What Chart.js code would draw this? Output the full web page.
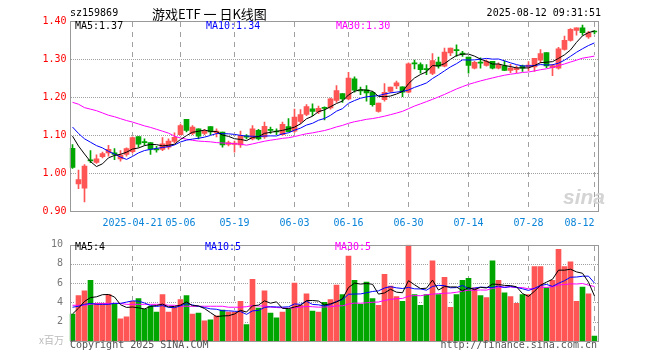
<!DOCTYPE html>
<html>
<head>
<meta charset="utf-8">
<script src="https://cdn.jsdelivr.net/npm/chart.js@4.4.1/dist/chart.umd.min.js"></script>
<style>
  html, body { margin: 0; padding: 0; background: #fff; }
  #wrap { position: relative; width: 660px; height: 360px; overflow: hidden; font-family: 'DejaVu Sans Mono', monospace; font-size: 10px; }
  #priceChart { position: absolute; left: 0; top: 0; }
  #volChart { position: absolute; left: 0; top: 232px; }
  .txt { position: absolute; white-space: pre; line-height: 12px; }
</style>
</head>
<body>
<div id="wrap">
  <canvas id="priceChart" width="660" height="232" style="width:660px;height:232px"></canvas>
  <canvas id="volChart" width="660" height="128" style="width:660px;height:128px"></canvas>

  <div class="txt" style="left:70px;top:7px;color:#000">sz159869</div>
  <div class="txt" style="left:152px;top:5px;line-height:17px;font-size:13px;font-family:'Noto Sans CJK SC',sans-serif;color:#000">游戏ETF 一 日K线图</div>
  <div class="txt" style="right:59px;top:7px;color:#000">2025-08-12 09:31:51</div>

  <div class="txt" style="left:75px;top:20px;color:#000">MA5:1.37</div>
  <div class="txt" style="left:206px;top:20px;color:#0000ff">MA10:1.34</div>
  <div class="txt" style="left:336px;top:20px;color:#ff00ff">MA30:1.30</div>

  <div class="txt" style="left:563px;top:185px;line-height:24px;font-size:21px;font-weight:bold;font-style:italic;font-family:'Liberation Sans',sans-serif;color:#d4d4d4">sina</div>

  <div class="txt" style="left:75px;top:241px;color:#000">MA5:4</div>
  <div class="txt" style="left:205px;top:241px;color:#0000ff">MA10:5</div>
  <div class="txt" style="left:335px;top:241px;color:#ff00ff">MA30:5</div>

  <div class="txt" style="right:596px;top:334px;color:#bbb;font-family:'Noto Sans CJK SC',sans-serif">x百万</div>
  <div class="txt" style="left:70px;top:339px;color:#555">Copyright 2025 SINA.COM</div>
  <div class="txt" style="right:63px;top:339px;color:#555">http://finance.sina.com.cn</div>
</div>

<script>
// trading days shown on the chart
const dates = [
  '2025-04-07','2025-04-08','2025-04-09','2025-04-10','2025-04-11','2025-04-14','2025-04-15','2025-04-16','2025-04-17','2025-04-18',
  '2025-04-21','2025-04-22','2025-04-23','2025-04-24','2025-04-25','2025-04-28','2025-04-29','2025-04-30',
  '2025-05-06','2025-05-07','2025-05-08','2025-05-09','2025-05-12','2025-05-13','2025-05-14','2025-05-15','2025-05-16',
  '2025-05-19','2025-05-20','2025-05-21','2025-05-22','2025-05-23','2025-05-26','2025-05-27','2025-05-28','2025-05-29','2025-05-30',
  '2025-06-03','2025-06-04','2025-06-05','2025-06-06','2025-06-09','2025-06-10','2025-06-11','2025-06-12','2025-06-13',
  '2025-06-16','2025-06-17','2025-06-18','2025-06-19','2025-06-20','2025-06-23','2025-06-24','2025-06-25','2025-06-26','2025-06-27',
  '2025-06-30','2025-07-01','2025-07-02','2025-07-03','2025-07-04','2025-07-07','2025-07-08','2025-07-09','2025-07-10','2025-07-11',
  '2025-07-14','2025-07-15','2025-07-16','2025-07-17','2025-07-18','2025-07-21','2025-07-22','2025-07-23','2025-07-24','2025-07-25',
  '2025-07-28','2025-07-29','2025-07-30','2025-07-31','2025-08-01','2025-08-04','2025-08-05','2025-08-06','2025-08-07','2025-08-08',
  '2025-08-11','2025-08-12',
];

const tickDates = ['2025-04-21','2025-05-06','2025-05-19','2025-06-03','2025-06-16','2025-06-30','2025-07-14','2025-07-28','2025-08-12'];
const tickTexts = ['2025-04-21','05-06','05-19','06-03','06-16','06-30','07-14','07-28','08-12'];

const opens = [
  1.065,0.971,0.960,1.034,1.028,1.043,1.053,1.053,1.037,1.049,
  1.056,1.096,1.081,1.080,1.062,1.062,1.068,1.083,1.101,1.141,
  1.104,1.116,1.104,1.122,1.106,1.108,1.075,1.075,1.074,1.098,
  1.090,1.112,1.095,1.114,1.109,1.101,1.122,1.110,1.136,1.154,
  1.169,1.161,1.171,1.171,1.191,1.209,1.195,1.248,1.218,1.219,
  1.212,1.162,1.193,1.215,1.229,1.227,1.213,1.288,1.285,1.273,
  1.262,1.292,1.281,1.316,1.323,1.314,1.305,1.276,1.290,1.283,
  1.294,1.276,1.282,1.270,1.272,1.282,1.279,1.279,1.297,1.317,
  1.277,1.276,1.325,1.349,1.375,1.382,1.358,1.372,
];
const highs = [
  1.075,1.008,1.022,1.059,1.048,1.055,1.073,1.064,1.059,1.066,
  1.095,1.096,1.090,1.080,1.070,1.093,1.090,1.106,1.129,1.141,
  1.125,1.116,1.115,1.122,1.116,1.108,1.084,1.084,1.110,1.101,
  1.125,1.115,1.134,1.121,1.116,1.134,1.143,1.168,1.167,1.180,
  1.182,1.176,1.174,1.197,1.230,1.209,1.265,1.253,1.226,1.230,
  1.215,1.184,1.235,1.226,1.242,1.227,1.290,1.297,1.290,1.285,
  1.314,1.305,1.329,1.329,1.337,1.320,1.305,1.294,1.303,1.298,
  1.294,1.290,1.295,1.286,1.282,1.284,1.293,1.302,1.325,1.317,
  1.286,1.331,1.360,1.380,1.382,1.389,1.373,1.375,
];
const lows = [
  1.012,0.959,0.924,1.027,1.025,1.040,1.044,1.035,1.031,1.044,
  1.052,1.068,1.073,1.049,1.055,1.059,1.063,1.079,1.100,1.108,
  1.101,1.090,1.101,1.101,1.095,1.068,1.071,1.055,1.067,1.090,
  1.087,1.087,1.091,1.104,1.101,1.099,1.108,1.107,1.130,1.151,
  1.151,1.156,1.140,1.168,1.186,1.186,1.192,1.213,1.206,1.189,
  1.176,1.160,1.189,1.212,1.222,1.201,1.211,1.274,1.263,1.259,
  1.259,1.276,1.279,1.309,1.307,1.307,1.263,1.274,1.276,1.281,
  1.274,1.274,1.269,1.264,1.264,1.267,1.269,1.267,1.290,1.277,
  1.256,1.273,1.323,1.347,1.363,1.363,1.354,1.366,
];
const closes = [
  1.015,0.983,1.018,1.032,1.037,1.051,1.062,1.049,1.047,1.064,
  1.093,1.076,1.080,1.063,1.061,1.077,1.084,1.094,1.125,1.112,
  1.121,1.097,1.110,1.108,1.110,1.074,1.080,1.079,1.099,1.094,
  1.116,1.090,1.123,1.112,1.108,1.128,1.109,1.147,1.154,1.175,
  1.162,1.170,1.170,1.195,1.217,1.195,1.250,1.218,1.216,1.211,
  1.180,1.184,1.212,1.226,1.237,1.213,1.287,1.287,1.272,1.272,
  1.296,1.281,1.318,1.329,1.322,1.313,1.283,1.291,1.289,1.294,
  1.276,1.285,1.270,1.276,1.276,1.276,1.284,1.302,1.314,1.282,
  1.283,1.327,1.349,1.378,1.382,1.369,1.369,1.371,
];
// volume, x 1,000,000
const volumes = [
  2.8,4.7,5.2,6.3,3.9,3.9,4.8,3.9,2.3,2.5,
  4.1,4.4,3.3,3.6,3.0,4.8,3.0,3.5,4.3,4.7,
  2.8,2.9,2.1,2.2,2.6,3.2,3.0,3.0,4.1,1.7,
  6.4,3.4,5.2,2.9,2.4,3.0,3.3,6.0,3.7,4.9,
  3.1,3.0,4.0,4.3,5.8,4.8,8.8,6.3,3.8,6.1,
  4.4,3.7,6.9,5.7,4.6,4.1,9.95,4.8,3.7,4.8,
  8.3,4.8,6.6,3.5,4.8,6.3,6.5,5.5,4.7,4.5,
  8.3,6.3,5.0,4.6,3.9,4.8,4.8,7.7,7.7,5.5,
  6.3,9.5,7.7,8.2,4.1,5.6,4.9,0.5,
];

// MA values at the left edge, where the window reaches before the first candle
const ma5Head = [1.097, 1.071, 1.050, 1.030];
const ma10Head = [1.121, 1.104, 1.090, 1.081, 1.072, 1.066, 1.057, 1.050, 1.042];
const ma30Head = [
  1.186,1.181,1.172,1.168,1.164,1.158,1.152,1.148,1.143,1.138,
  1.134,1.129,1.124,1.120,1.115,1.110,1.105,1.097,1.092,1.089,
  1.086,1.084,1.083,1.082,1.080,1.079,1.078,1.077,1.076,
];
const vma5Head = [2.8, 3.4, 4.1, 4.5];
const vma10Head = [3.5, 3.6, 3.8, 3.9, 3.8, 3.8, 3.8, 3.9, 3.9];
const vma30Head = [
  3.7,3.7,3.7,3.8,3.9,3.9,3.9,3.9,3.9,3.8,
  3.8,3.8,3.8,3.8,3.8,3.8,3.7,3.7,3.6,3.6,
  3.6,3.6,3.6,3.6,3.6,3.6,3.5,3.5,3.5,
];

const RED = '#ff5555';
const GREEN = '#00a600';
const GRID = '#a0a0a0';

const movingAvg = (values, n, head) =>
  values.map((v, i) => {
    if (i < n - 1) return head[i];
    let sum = 0;
    for (let k = i - n + 1; k <= i; k++) sum += values[k];
    return sum / n;
  });

const candleColors = opens.map((o, i) => (closes[i] > o ? RED : GREEN));

Chart.defaults.font.family = "'DejaVu Sans Mono', monospace";
Chart.defaults.font.size = 10;

// dotted rows at the y ticks and dashed columns at the dated ticks,
// put down pixel by pixel only where no candle or line has been drawn yet
const gridPlugin = {
  id: 'sinaGrid',
  afterDatasetsDraw(chart) {
    const { ctx, chartArea, scales, canvas } = chart;
    const w = canvas.width;
    const pix = ctx.getImageData(0, 0, w, canvas.height).data;
    const free = (x, y) => {
      const k = (y * w + x) * 4;
      return pix[k + 3] < 40 || (pix[k] > 235 && pix[k + 1] > 235 && pix[k + 2] > 235);
    };
    const left = Math.round(chartArea.left) + 1;
    const right = Math.round(chartArea.right);
    const top = Math.round(chartArea.top) + 1;
    const bottom = Math.round(chartArea.bottom);
    ctx.save();
    ctx.fillStyle = GRID;
    scales.y.ticks.forEach((t) => {
      const py = Math.round(scales.y.getPixelForValue(t.value));
      if (py <= top || py >= bottom) return;
      for (let x = left; x < right; x += 2) {
        if (free(x, py)) ctx.fillRect(x, py, 1, 1);
      }
    });
    tickDates.forEach((d) => {
      const px = Math.floor(scales.x.getPixelForValue(dates.indexOf(d)));
      for (let y = top; y < bottom; y++) {
        if ((y - top) % 10 < 5 && free(px, y)) ctx.fillRect(px, y, 1, 1);
      }
    });
    ctx.restore();
  },
};

// grey box round the plot area
const framePlugin = {
  id: 'frame',
  afterDraw(chart) {
    const { ctx, chartArea } = chart;
    const l = Math.round(chartArea.left) + 0.5;
    const r = Math.round(chartArea.right) + 0.5;
    const t = Math.round(chartArea.top) + 0.5;
    const b = Math.round(chartArea.bottom) + 0.5;
    ctx.save();
    ctx.strokeStyle = '#999';
    ctx.lineWidth = 1;
    ctx.strokeRect(l, t, r - l, b - t);
    ctx.restore();
  },
};

const xScale = (showLabels, height) => ({
  type: 'category',
  offset: true,
  grid: { display: false, drawTicks: false },
  border: { display: false },
  ticks: {
    display: showLabels,
    autoSkip: false,
    maxRotation: 0,
    minRotation: 0,
    align: 'inner',
    padding: 6,
    color: '#0a84d8',
    callback: (v, i) => {
      const k = tickDates.indexOf(dates[i]);
      return k < 0 ? '' : tickTexts[k];
    },
  },
  afterFit: (scale) => {
    scale.height = height;
  },
});

const lineSet = (data, color) => ({
  type: 'line',
  data: data,
  borderColor: color,
  borderWidth: 1,
  pointRadius: 0,
  tension: 0,
  fill: false,
  order: 0,
});

const configPriceChart = () => {
  new Chart(document.getElementById('priceChart'), {
    type: 'bar',
    data: {
      labels: dates,
      datasets: [
        lineSet(movingAvg(closes, 5, ma5Head), '#000000'),
        lineSet(movingAvg(closes, 10, ma10Head), '#0000ff'),
        lineSet(movingAvg(closes, 30, ma30Head), '#ff00ff'),
        {
          data: opens.map((o, i) => [o, closes[i]]),
          backgroundColor: candleColors,
          barThickness: 5,
          minBarLength: 1,
          grouped: false,
          order: 5,
        },
        {
          data: lows.map((l, i) => [l, highs[i]]),
          backgroundColor: candleColors,
          barThickness: 1,
          grouped: false,
          order: 6,
        },
      ],
    },
    options: {
      responsive: false,
      animation: false,
      layout: { padding: { top: 21, right: 62.5, left: 0, bottom: 0 } },
      plugins: { legend: { display: false }, tooltip: { enabled: false } },
      scales: {
        x: xScale(true, 21),
        y: {
          min: 0.9,
          max: 1.4,
          ticks: {
            stepSize: 0.1,
            color: '#ff0000',
            padding: 3,
            callback: (v) => Number(v).toFixed(2),
          },
          grid: { display: false, drawTicks: false },
          border: { display: false },
          afterFit: (scale) => {
            scale.width = 69.5;
          },
        },
      },
    },
    plugins: [gridPlugin, framePlugin],
  });
};

const configVolChart = () => {
  new Chart(document.getElementById('volChart'), {
    type: 'bar',
    data: {
      labels: dates,
      datasets: [
        lineSet(movingAvg(volumes, 5, vma5Head), '#000000'),
        lineSet(movingAvg(volumes, 10, vma10Head), '#0000ff'),
        lineSet(movingAvg(volumes, 30, vma30Head), '#ff00ff'),
        {
          data: volumes,
          backgroundColor: candleColors,
          barThickness: 5,
          grouped: false,
          order: 5,
        },
      ],
    },
    options: {
      responsive: false,
      animation: false,
      layout: { padding: { top: 9, right: 62.5, left: 0, bottom: 0 } },
      plugins: { legend: { display: false }, tooltip: { enabled: false } },
      scales: {
        x: xScale(false, 19),
        y: {
          min: 0,
          max: 10,
          ticks: {
            stepSize: 2,
            color: '#777',
            padding: 6.5,
            callback: (v) => (v === 0 ? '' : v),
          },
          grid: { display: false, drawTicks: false },
          border: { display: false },
          afterFit: (scale) => {
            scale.width = 69.5;
          },
        },
      },
    },
    plugins: [gridPlugin, framePlugin],
  });
};

configPriceChart();
configVolChart();
</script>
</body>
</html>
